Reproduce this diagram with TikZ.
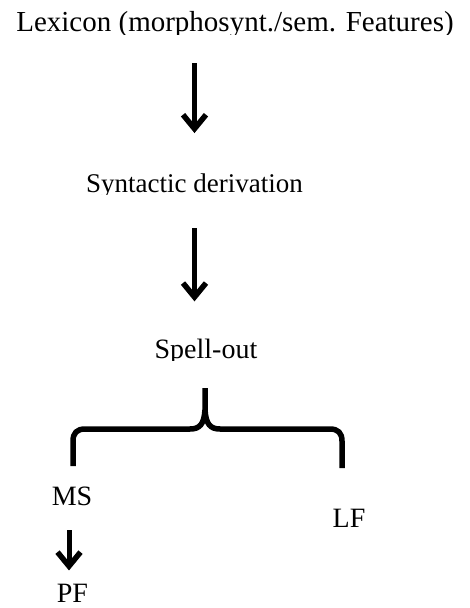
\documentclass[tikz,border=0pt]{standalone}
\usepackage{fontspec}
\setmainfont{Liberation Serif}
\usetikzlibrary{arrows.meta}
\tikzset{
  lbl/.style={anchor=base, inner sep=0pt, font=\fontsize{28}{34}\selectfont},
  arr/.style={line width=5pt, -{Straight Barb[sharp, line width=5.5pt, length=14pt, width=23pt]}},
  bracepath/.style={line width=5.5pt, line join=round}
}
\begin{document}
\begin{tikzpicture}[x=1pt, y=-1pt]
\useasboundingbox (0,0) rectangle (469,608);
% text boxes, clipped just below the baseline as in the reference
\begin{scope}
  \clip (0,0) rectangle (469,34);
  \node[lbl, font=\fontsize{29}{34}\selectfont] (lex) at (235,31) {Lexicon (morphosynt./sem. Features)};
\end{scope}
\begin{scope}
  \clip (0,150) rectangle (469,194);
  \node[lbl, font=\fontsize{27}{32}\selectfont] (syn) at (194.5,192) {Syntactic derivation};
\end{scope}
\begin{scope}
  \clip (0,320) rectangle (469,360.5);
  \node[lbl] (spell) at (206,358) {Spell-out};
\end{scope}
\node[lbl] (ms) at (72,505) {MS};
\node[lbl] (lf) at (349,527) {LF};
\node[lbl] (pf) at (72.5,602) {PF};
% arrows
\draw[arr, shorten <=26pt, shorten >=40pt] (lex.south -| syn.base) -- (syn.north);
\draw[arr, shorten <=30pt, shorten >=37pt] (syn.south) -- (syn.south |- spell.north);
\draw[arr, shorten <=25pt, shorten >=13pt] ([xshift=-3pt]ms.south) -- ([xshift=-3pt]ms.south |- pf.north);
% brace
\draw[bracepath] (73,466) -- (73,441) .. controls (73,433) and (77,429) .. (85,429)
  -- (190,429) .. controls (200,429) and (204,424) .. (205,410) -- (205,388);
\draw[bracepath] (342,468) -- (342,441) .. controls (342,433) and (338,429) .. (330,429)
  -- (220,429) .. controls (210,429) and (206,424) .. (205,410);
\end{tikzpicture}
\end{document}
